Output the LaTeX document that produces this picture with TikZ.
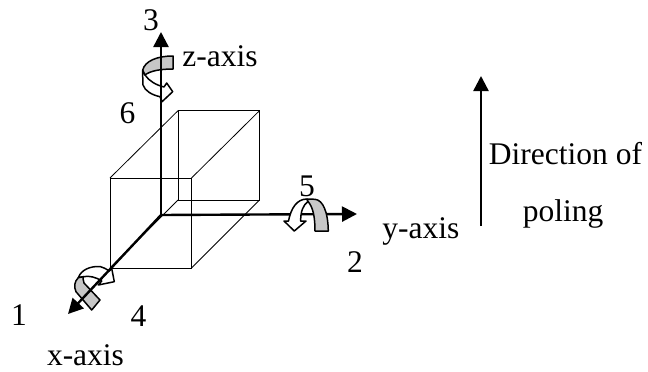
\documentclass[tikz,border=0pt]{standalone}
\usepackage{fontspec}
\setmainfont{Liberation Serif}
\usetikzlibrary{arrows.meta}
\tikzstyle{axisarrow} = [line width=2.4pt,-{Triangle[length=15pt,width=15pt]}]
\tikzstyle{boxline} = [line width=0.8pt]
\tikzstyle{bandgray} = [draw, line width=1.5pt, fill=black!22, line join=round]
\tikzstyle{bandwhite} = [draw, line width=1.5pt, fill=white, line join=round]
\tikzstyle{lbl} = [inner sep=0pt, anchor=base, font=\fontsize{31.5}{36}\selectfont]
\begin{document}
\begin{tikzpicture}[x=1pt, y=-1pt]
  \useasboundingbox (0,0) rectangle (648,372);
  % box corners
  \coordinate (bt1) at (178,110.7);
  \coordinate (bt2) at (259.5,110.7);
  \coordinate (bb1) at (178,200);
  \coordinate (bb2) at (259.5,200);
  \coordinate (ft1) at (110,178);
  \coordinate (ft2) at (191.5,178);
  \coordinate (fb1) at (110,268);
  \coordinate (fb2) at (191.5,268);
  \draw[boxline] (ft1) -- (ft2) -- (fb2) -- (fb1) -- cycle;
  \draw[boxline] (bt1) -- (bt2) -- (bb2) -- (bb1) -- cycle;
  \draw[boxline] (ft1) -- (bt1);
  \draw[boxline] (ft2) -- (bt2);
  \draw[boxline] (fb2) -- (bb2);
  \draw[boxline] (fb1) -- (bb1);
  % axes
  \coordinate (org) at (161,215);
  \coordinate (ztip) at (161,32);
  \coordinate (ytip) at (357,214);
  \coordinate (xtip) at (68,314);
  \coordinate (pbase) at (481,226);
  \coordinate (ptip) at (481,76);
  \draw[axisarrow] (org) -- (ytip);
  % rotation about y
  \draw[bandwhite] (307,199) .. controls (297,199) and (291,208) .. (288.5,221) -- (284,221) -- (294.3,231) -- (306,221) -- (300.7,221) .. controls (300.5,212) and (303,205) .. (308,201.5) -- cycle;
  \draw[bandgray] (307,199) -- (315,199.3) .. controls (323,200) and (328,212) .. (328.3,231) -- (315,231) .. controls (315,217) and (313,207) .. (308,201.5) -- cycle;
  % rotation about z
  \draw[bandwhite] (142.7,70) .. controls (142.5,76) and (143,81) .. (143,85) .. controls (145,91) and (152,95) .. (160,96.7) -- (162,101.7) -- (172.7,91.7) -- (166.7,83) -- (164,87) .. controls (156,85) and (149,81) .. (145,75) -- cycle;
  \draw[bandgray] (173,56) .. controls (157,56) and (145,61) .. (142.7,70) -- (145,75) .. controls (150,71) and (160,69) .. (173,69) -- cycle;
  % rotation about x
  \draw[bandwhite] (78.3,277.7) .. controls (81,270) and (90,266) .. (100,266.5) .. controls (103,267) and (106,269) .. (109.3,271) -- (111.7,268.3) -- (114.3,281.7) -- (98.3,285) -- (101.7,281) .. controls (96,277) and (89,275.5) .. (83.3,276.7) -- cycle;
  \draw[bandgray] (78.3,277.7) .. controls (74,282) and (74,287) .. (76,291.7) -- (91.7,310) -- (100,300) -- (84,283) .. controls (83,280) and (83,278) .. (83.3,276.7) -- cycle;
  \draw[axisarrow] (org) -- (ztip);
  \draw[axisarrow] (org) -- (xtip);
  \draw[axisarrow] (pbase) -- (ptip);
  % labels
  \node[lbl] (n3) at (151,30) {3};
  \node[lbl] (n6) at (127.5,123) {6};
  \node[lbl] (zlab) at (220,66.7) {z-axis};
  \node[lbl] (n5) at (307,196) {5};
  \node[lbl] (ylab) at (420.8,238) {y-axis};
  \node[lbl] (n2) at (355,272) {2};
  \node[lbl] (n1) at (19,325) {1};
  \node[lbl] (n4) at (138.5,326.7) {4};
  \node[lbl] (xlab) at (85.5,365) {x-axis};
  \node[lbl] (dirlab) at (565.5,164) {Direction of};
  \node[lbl] (pollab) at (563,221) {poling};
\end{tikzpicture}
\end{document}
